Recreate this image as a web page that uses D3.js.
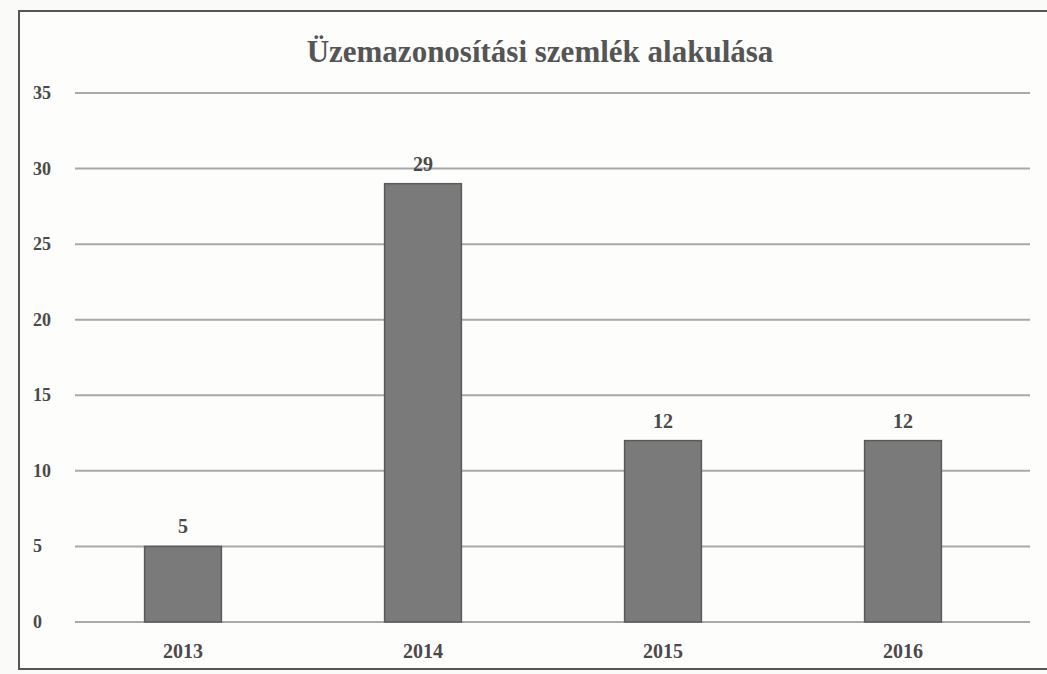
<!DOCTYPE html>
<html>
<head>
<meta charset="utf-8">
<script src="https://cdn.jsdelivr.net/npm/d3@7"></script>
<style>
  body { margin: 0; background: #fafaf8; }
  svg { display: block; }
  text { font-family: "Liberation Serif", "DejaVu Serif", serif; fill: #4a4a4a; }
</style>
</head>
<body>
<svg id="chart" width="1047" height="674"></svg>
<script>
  // chart data
  var years = ["2013", "2014", "2015", "2016"];
  var counts = [5, 29, 12, 12];
  var yTicks = [0, 5, 10, 15, 20, 25, 30, 35];
  var title = "Üzemazonosítási szemlék alakulása";

  var svg = d3.select("#chart");
  var width = 1047, height = 674;
  var margin = {top: 93, right: 24, bottom: 52, left: 63};

  // outer frame of the chart area
  svg.append("rect")
    .attr("x", 19).attr("y", 11)
    .attr("width", 1040).attr("height", 658)
    .attr("fill", "#fdfdfc")
    .attr("stroke", "#555")
    .attr("stroke-width", 2);

  var x = d3.scaleBand()
    .domain(years)
    .range([margin.left, width - margin.right])
    .paddingInner(0.68)
    .paddingOuter(0.34);

  var y = d3.scaleLinear()
    .domain([0, 35])
    .range([height - margin.bottom, margin.top]);

  // gridlines
  svg.append("g")
    .selectAll("line")
    .data(yTicks)
    .enter().append("line")
    .attr("x1", 75)
    .attr("x2", 1030)
    .attr("y1", function(d) { return y(d); })
    .attr("y2", function(d) { return y(d); })
    .attr("stroke", "#a9a9a9")
    .attr("stroke-width", 2);

  // y labels
  svg.append("g")
    .selectAll("text")
    .data(yTicks)
    .enter().append("text")
    .attr("x", 33)
    .attr("y", function(d) { return y(d) + 6; })
    .style("font-size", "18px")
    .style("font-weight", "bold")
    .text(function(d) { return d; });

  // bars
  svg.append("g")
    .selectAll("rect")
    .data(counts)
    .enter().append("rect")
    .attr("x", function(d, i) { return x(years[i]); })
    .attr("y", function(d) { return y(d); })
    .attr("width", x.bandwidth())
    .attr("height", function(d) { return y(0) - y(d); })
    .attr("fill", "#7a7a7a")
    .attr("stroke", "#5a5a5a")
    .attr("stroke-width", 1.5);

  // value labels
  svg.append("g")
    .selectAll("text")
    .data(counts)
    .enter().append("text")
    .attr("x", function(d, i) { return x(years[i]) + x.bandwidth() / 2; })
    .attr("y", function(d) { return y(d) - 13; })
    .attr("text-anchor", "middle")
    .style("font-size", "20px")
    .style("font-weight", "bold")
    .text(function(d) { return d; });

  // x labels
  svg.append("g")
    .selectAll("text")
    .data(years)
    .enter().append("text")
    .attr("x", function(d) { return x(d) + x.bandwidth() / 2; })
    .attr("y", height - margin.bottom + 36)
    .attr("text-anchor", "middle")
    .style("font-size", "20px")
    .style("font-weight", "bold")
    .text(function(d) { return d; });

  // title
  svg.append("text")
    .attr("x", 540)
    .attr("y", 62)
    .attr("text-anchor", "middle")
    .style("font-size", "31px")
    .style("font-weight", "bold")
    .style("fill", "#555")
    .text(title);
</script>
</body>
</html>
